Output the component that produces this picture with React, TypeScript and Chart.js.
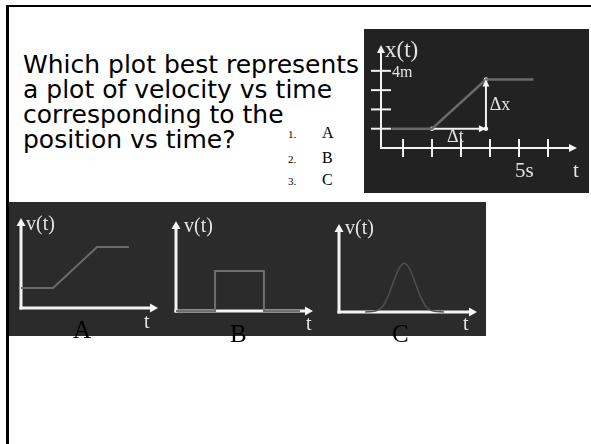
import React, { useEffect, useRef } from "react";
import { Chart, registerables } from "chart.js";

Chart.register(...registerables);

// ---------- data ----------
const questionLines = [
  "Which plot best represents",
  "a plot of velocity vs time",
  "corresponding to the",
  "position vs time?",
];
const answerNumbers = ["1.", "2.", "3."];
const answerLetters = ["A", "B", "C"];

// position vs time (top right)
const posT = [0.6, 2, 3.86, 5.5];
const posX = [1, 1, 3.55, 3.55];
const deltaXT = [3.86, 3.86];
const deltaXX = [1, 3.55];
const deltaTT = [2, 3.86];
const deltaTX = [1, 1];
const markerT = [2, 3.86, 3.86];
const markerX = [1, 1, 3.55];
const posTickT = [1, 2, 3, 4, 5, 6];
const posTickX = [1, 2, 3, 4];

// velocity candidates
const velAT = [0, 2.34, 5.55, 7.88];
const velAV = [2.22, 2.22, 6.78, 6.78];
const velBT = [0, 2.85, 2.85, 6.42, 6.42, 9.05];
const velBV = [0, 0, 4.44, 4.44, 0, 0];
const velCT = [1.9, 2.6, 3.1, 3.5, 3.9, 4.3, 4.73, 5.15, 5.55, 5.95, 6.35, 6.85, 7.6];
const velCV = [0, 0.1, 0.5, 1.6, 3.2, 4.8, 5.53, 4.8, 3.2, 1.6, 0.5, 0.1, 0];

const SERIF = '"Liberation Serif", "Times New Roman", serif';
const LABEL = "#e4e4e4";

type Lbl = {
  text: string;
  x?: number;
  y?: number;
  anchor?: "top" | "right";
  dx?: number;
  dy?: number;
  font: string;
  color?: string;
};

type AxisCfg = {
  axisColor: string;
  axisWidth: number;
  arrowLen: number;
  arrowHalf: number;
  xTicks?: number[];
  yTicks?: number[];
  xTickHalf?: number;
  yTickHalf?: number;
  tickWidth?: number;
  arrowDatasets?: number[];
  labels: Lbl[];
};

const pts = (xs: number[], ys: number[]) => xs.map((x, i) => ({ x, y: ys[i] }));

function arrowHead(ctx: CanvasRenderingContext2D, x: number, y: number, angle: number, len: number, half: number, color: string) {
  ctx.save();
  ctx.translate(x, y);
  ctx.rotate(angle);
  ctx.beginPath();
  ctx.moveTo(0, 0);
  ctx.lineTo(-len, -half);
  ctx.lineTo(-len, half);
  ctx.closePath();
  ctx.fillStyle = color;
  ctx.fill();
  ctx.restore();
}

function slidePlugin(cfg: AxisCfg) {
  return {
    id: "slideAxes",
    beforeDatasetsDraw(chart: any) {
      const { ctx, chartArea: a, scales } = chart;
      const xs = scales.x;
      const ys = scales.y;
      const ox = xs.getPixelForValue(xs.min);
      const oy = ys.getPixelForValue(ys.min);
      ctx.save();
      ctx.strokeStyle = cfg.axisColor;
      ctx.lineWidth = cfg.axisWidth;
      ctx.beginPath();
      ctx.moveTo(ox, oy + cfg.axisWidth / 2);
      ctx.lineTo(ox, a.top + cfg.arrowLen - 1);
      ctx.stroke();
      arrowHead(ctx, ox, a.top, -Math.PI / 2, cfg.arrowLen, cfg.arrowHalf, cfg.axisColor);
      ctx.beginPath();
      ctx.moveTo(ox - cfg.axisWidth / 2, oy);
      ctx.lineTo(a.right - cfg.arrowLen + 1, oy);
      ctx.stroke();
      arrowHead(ctx, a.right, oy, 0, cfg.arrowLen, cfg.arrowHalf, cfg.axisColor);
      ctx.lineWidth = cfg.tickWidth || 2;
      (cfg.xTicks || []).forEach((t) => {
        const px = xs.getPixelForValue(t);
        ctx.beginPath();
        ctx.moveTo(px, oy - (cfg.xTickHalf || 8));
        ctx.lineTo(px, oy + (cfg.xTickHalf || 8));
        ctx.stroke();
      });
      (cfg.yTicks || []).forEach((t) => {
        const py = ys.getPixelForValue(t);
        ctx.beginPath();
        ctx.moveTo(ox - (cfg.yTickHalf || 8), py);
        ctx.lineTo(ox + (cfg.yTickHalf || 8), py);
        ctx.stroke();
      });
      ctx.restore();
    },
    afterDatasetsDraw(chart: any) {
      const { ctx, chartArea: a, scales } = chart;
      const xs = scales.x;
      const ys = scales.y;
      const ox = xs.getPixelForValue(xs.min);
      const oy = ys.getPixelForValue(ys.min);
      ctx.save();
      (cfg.arrowDatasets || []).forEach((di) => {
        const meta = chart.getDatasetMeta(di);
        const els = meta.data;
        const p1 = els[els.length - 2];
        const p2 = els[els.length - 1];
        const ang = Math.atan2(p2.y - p1.y, p2.x - p1.x);
        arrowHead(ctx, p2.x, p2.y, ang, 7, 3.5, "#f2f2f2");
      });
      cfg.labels.forEach((l) => {
        let px: number;
        let py: number;
        if (l.anchor === "top") {
          px = ox;
          py = a.top;
        } else if (l.anchor === "right") {
          px = a.right;
          py = oy;
        } else {
          px = xs.getPixelForValue(l.x);
          py = ys.getPixelForValue(l.y);
        }
        ctx.font = l.font;
        ctx.fillStyle = l.color || LABEL;
        ctx.textAlign = "left";
        ctx.textBaseline = "alphabetic";
        ctx.fillText(l.text, px + (l.dx || 0), py + (l.dy || 0));
      });
      ctx.restore();
    },
  };
}

type PanelProps = {
  left: number;
  top: number;
  width: number;
  height: number;
  padding: { left: number; top: number; right: number; bottom: number };
  xMin: number;
  xMax: number;
  yMin: number;
  yMax: number;
  datasets: any[];
  axis: AxisCfg;
};

function Panel(p: PanelProps) {
  const ref = useRef<HTMLCanvasElement | null>(null);
  useEffect(() => {
    if (!ref.current) return;
    const chart = new Chart(ref.current, {
      type: "line",
      data: { datasets: p.datasets },
      options: {
        animation: false,
        responsive: false,
        events: [],
        layout: { padding: p.padding },
        scales: {
          x: { type: "linear", display: false, min: p.xMin, max: p.xMax },
          y: { type: "linear", display: false, min: p.yMin, max: p.yMax },
        },
        plugins: { legend: { display: false }, tooltip: { enabled: false }, title: { display: false } },
      },
      plugins: [slidePlugin(p.axis) as any],
    });
    return () => chart.destroy();
  }, []);
  return (
    <canvas
      ref={ref}
      width={p.width}
      height={p.height}
      style={{ position: "absolute", left: p.left, top: p.top, width: p.width, height: p.height }}
    />
  );
}

const line = (data: { x: number; y: number }[], color: string, width: number, extra: any = {}) => ({
  data,
  borderColor: color,
  borderWidth: width,
  pointRadius: 0,
  fill: false,
  tension: 0,
  clip: false,
  ...extra,
});

export default function App() {
  const vLabel = `20px ${SERIF}`;
  return (
    <div style={{ position: "absolute", left: 0, top: 0, width: 591, height: 444, background: "#fff", overflow: "hidden" }}>
      {/* slide border */}
      <div style={{ position: "absolute", left: 6, top: 5, right: 0, height: 2, background: "#000" }} />
      <div style={{ position: "absolute", left: 6, top: 5, width: 3, bottom: 0, background: "#000" }} />

      {/* question */}
      {questionLines.map((t, i) => (
        <div
          key={t}
          style={{
            position: "absolute",
            left: 23,
            top: [51.5, 77, 102, 127][i],
            fontFamily: '"DejaVu Sans", sans-serif',
            fontSize: 25,
            lineHeight: "25px",
            color: "#000",
            whiteSpace: "nowrap",
          }}
        >
          {t}
        </div>
      ))}

      {/* answers */}
      {answerNumbers.map((n, i) => (
        <div key={n} style={{ position: "absolute", left: 288, top: [129, 154, 176][i], fontFamily: SERIF, fontSize: 11, lineHeight: "11px", color: "#000" }}>
          {n}
        </div>
      ))}
      {answerLetters.map((n, i) => (
        <div key={n} style={{ position: "absolute", left: 322, top: [125, 150, 172][i], fontFamily: SERIF, fontSize: 16, lineHeight: "16px", color: "#000" }}>
          {n}
        </div>
      ))}

      {/* position vs time box */}
      <div style={{ position: "absolute", left: 364, top: 29, width: 225, height: 164, background: "#222222" }} />
      <Panel
        left={364}
        top={29}
        width={225}
        height={164}
        padding={{ left: 17, top: 16, right: 12, bottom: 45 }}
        xMin={0.24}
        xMax={7.0}
        yMin={0}
        yMax={5.34}
        datasets={[
          line(pts(posT, posX), "#6a6a6a", 2.5),
          line(pts(deltaXT, deltaXX), "#f2f2f2", 2),
          line(pts(deltaTT, deltaTX), "#f2f2f2", 2),
          line(pts(markerT, markerX), "#f2f2f2", 0, { showLine: false, pointRadius: 2.2, pointBackgroundColor: "#f2f2f2", pointBorderWidth: 0 }),
        ]}
        axis={{
          axisColor: "#f2f2f2",
          axisWidth: 2,
          arrowLen: 8,
          arrowHalf: 4,
          xTicks: posTickT,
          yTicks: posTickX,
          xTickHalf: 9,
          yTickHalf: 10,
          tickWidth: 2,
          arrowDatasets: [1, 2],
          labels: [
            { text: "x(t)", anchor: "top", dx: 4, dy: 12, font: `23px ${SERIF}` },
            { text: "4m", x: 0.24, y: 4, dx: 11, dy: 6, font: `16px ${SERIF}` },
            { text: "5s", x: 5, y: 0, dx: -4, dy: 29, font: `21px ${SERIF}` },
            { text: "t", anchor: "right", dx: -4, dy: 29, font: `21px ${SERIF}` },
            { text: "Δx", x: 3.99, y: 1.97, font: `18px ${SERIF}` },
            { text: "Δt", x: 2.52, y: 0.31, font: `18px ${SERIF}` },
          ],
        }}
      />

      {/* velocity band */}
      <div style={{ position: "absolute", left: 9, top: 202, width: 477, height: 134, background: "#2b2b2b" }} />
      <Panel
        left={9}
        top={202}
        width={154}
        height={134}
        padding={{ left: 12, top: 16, right: 5, bottom: 28 }}
        xMin={0}
        xMax={10}
        yMin={0}
        yMax={10}
        datasets={[line(pts(velAT, velAV), "#6a6a6a", 2)]}
        axis={{
          axisColor: "#f4f4f4",
          axisWidth: 3,
          arrowLen: 8,
          arrowHalf: 4.5,
          labels: [
            { text: "v(t)", anchor: "top", dx: 5, dy: 12, font: vLabel },
            { text: "t", anchor: "right", dx: -14, dy: 20, font: vLabel },
          ],
        }}
      />
      <Panel
        left={163}
        top={202}
        width={160}
        height={134}
        padding={{ left: 13, top: 19, right: 10, bottom: 25 }}
        xMin={0}
        xMax={10}
        yMin={0}
        yMax={10}
        datasets={[line(pts(velBT, velBV), "#6e6e6e", 2)]}
        axis={{
          axisColor: "#f4f4f4",
          axisWidth: 3,
          arrowLen: 8,
          arrowHalf: 4.5,
          labels: [
            { text: "v(t)", anchor: "top", dx: 8, dy: 11, font: vLabel },
            { text: "t", anchor: "right", dx: -7, dy: 19, font: vLabel },
          ],
        }}
      />
      <Panel
        left={323}
        top={202}
        width={163}
        height={134}
        padding={{ left: 16, top: 22, right: 9, bottom: 24 }}
        xMin={0}
        xMax={10}
        yMin={0}
        yMax={10}
        datasets={[line(pts(velCT, velCV), "#505050", 1.5, { tension: 0.4, cubicInterpolationMode: "monotone" })]}
        axis={{
          axisColor: "#f4f4f4",
          axisWidth: 3,
          arrowLen: 8,
          arrowHalf: 4.5,
          labels: [
            { text: "v(t)", anchor: "top", dx: 6, dy: 10, font: vLabel },
            { text: "t", anchor: "right", dx: -14, dy: 18, font: vLabel },
          ],
        }}
      />

      {/* choice labels */}
      {answerLetters.map((n, i) => (
        <div
          key={"lbl" + n}
          style={{ position: "absolute", left: [73, 230, 392][i], top: [317, 321, 321][i], fontFamily: SERIF, fontSize: 25, lineHeight: "25px", color: "#000" }}
        >
          {n}
        </div>
      ))}
    </div>
  );
}
